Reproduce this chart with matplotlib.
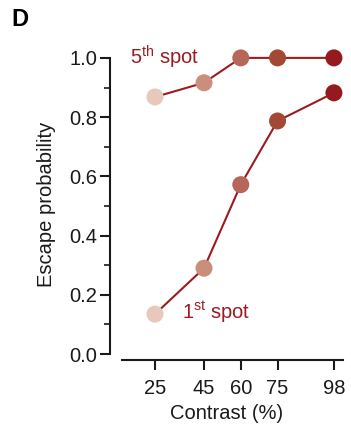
import numpy as np
import matplotlib.pyplot as plt

plt.rcParams['font.family'] = ['Liberation Sans', 'DejaVu Sans']
plt.rcParams['mathtext.fontset'] = 'custom'
plt.rcParams['mathtext.rm'] = 'Liberation Sans'

contrast = [25, 45, 60, 75, 98]
first_spot = [0.135, 0.29, 0.572, 0.787, 0.882]
fifth_spot = [0.868, 0.916, 1.0, 1.0, 1.0]
dot_colors = ['#e8c8ba', '#c98e7c', '#b7675a', '#a44836', '#951a1f']
line_color = '#9b1b20'
ink = '#1a1a1a'

fig = plt.figure(figsize=(3.51, 4.25), dpi=100)
ax = fig.add_axes([110/351, 65/425, 233/351, 311/425])

for ys in (first_spot, fifth_spot):
    ax.plot(contrast, ys, '-', color=line_color, lw=1.5, zorder=2, clip_on=False)
    ax.scatter(contrast, ys, s=150, c=dot_colors, zorder=3, clip_on=False, linewidths=0)

ax.set_xlim(6.65, 101.7)
ax.set_ylim(-0.02, 1.03)
ax.spines['top'].set_visible(False)
ax.spines['right'].set_visible(False)
ax.spines['left'].set_bounds(0, 1)
ax.spines['bottom'].set_bounds(11.5, 101.7)
for s in ('left', 'bottom'):
    ax.spines[s].set_linewidth(1.5)
    ax.spines[s].set_color(ink)

ax.set_xticks(contrast)
ax.set_yticks(np.arange(0, 1.01, 0.2))
ax.set_yticks(np.arange(0.1, 1.0, 0.2), minor=True)
ax.set_yticklabels(['0.0', '0.2', '0.4', '0.6', '0.8', '1.0'])
ax.tick_params(axis='both', which='major', length=7, width=1.5, labelsize=14.5,
               color=ink, labelcolor=ink, pad=2)
ax.tick_params(axis='x', which='major', pad=7)
ax.tick_params(axis='y', which='minor', length=4, width=1.2, color=ink)

ax.set_xlabel('Contrast (%)', fontsize=14.5, color=ink, labelpad=4)
ax.set_ylabel('Escape probability', fontsize=14.5, color=ink, labelpad=10)

ax.text(14.8, 1.0, '5$^{\\mathrm{th}}$ spot', color=line_color, fontsize=14.5, va='center')
ax.text(36, 0.14, '1$^{\\mathrm{st}}$ spot', color=line_color, fontsize=14.5, va='center')

fig.text(11/351, 1 - 20/425, 'D', fontsize=17, fontweight='bold', va='center')

fig.savefig('out.png', dpi=100)
